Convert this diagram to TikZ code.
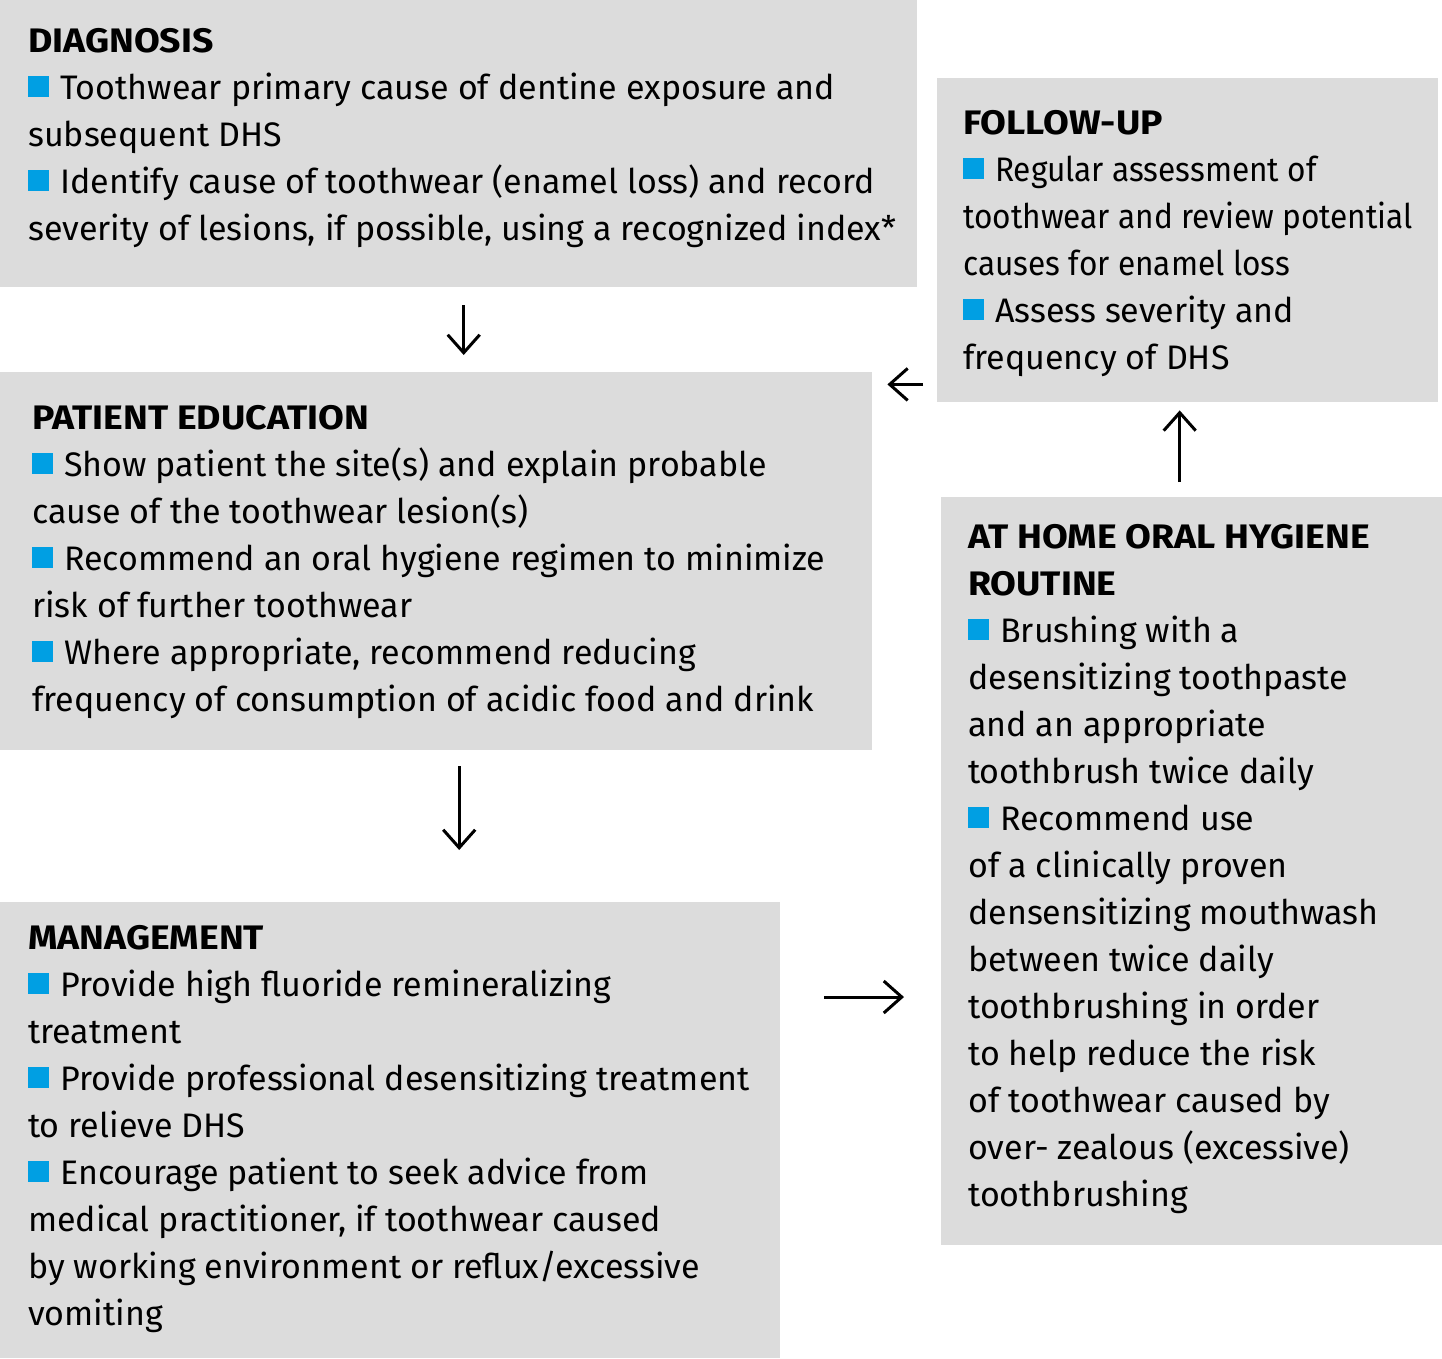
\documentclass[tikz,border=0pt]{standalone}
\usepackage{fontspec}
\setmainfont{Fira Sans}
\newfontfamily\condfont[FakeStretch=0.93]{Fira Sans}
\newfontfamily\headfont[FakeStretch=1.1]{Fira Sans}
\usetikzlibrary{arrows.meta}
\definecolor{boxgray}{RGB}{220,220,220}
\definecolor{bulletblue}{RGB}{0,159,227}
\newcommand{\bul}{\textcolor{bulletblue}{\rule[2pt]{21pt}{21pt}}\hspace{11pt}}
\newcommand{\hd}[1]{{\headfont\bfseries #1}}

\begin{document}
\begin{tikzpicture}[x=1pt,y=1pt,
 every node/.style={inner sep=0pt},
 panel/.style={fill=boxgray,anchor=north west},
 body/.style={anchor=north west,align=left,font=\fontsize{34}{47}\selectfont},
 flow/.style={-{Straight Barb[length=18pt,width=32pt]},line width=3pt}]
 \path[use as bounding box] (0,0) rectangle (1442,-1358);
 % Panels
 \node[panel,minimum width=917pt,minimum height=287pt] (diag) at (0,0) {};
 \node[panel,minimum width=872pt,minimum height=378pt] (edu) at (0,-372) {};
 \node[panel,minimum width=780pt,minimum height=456pt] (mgmt) at (0,-902) {};
 \node[panel,minimum width=501pt,minimum height=324pt] (follow) at (937,-78) {};
 \node[panel,minimum width=501pt,minimum height=748pt] (home) at (941,-497) {};
 % Texts
 \node[body] (diagtxt) at (28,-28) {\hd{DIAGNOSIS}\\
  \bul Toothwear primary cause of dentine exposure and\\
  subsequent DHS\\
  \bul Identify cause of toothwear (enamel loss) and record\\
  severity of lesions, if possible, using a recognized index*};
 \node[body] (edutxt) at (32,-405) {\hd{PATIENT EDUCATION}\\
  \bul Show patient the site(s) and explain probable\\
  cause of the toothwear lesion(s)\\
  \bul Recommend an oral hygiene regimen to minimize\\
  risk of further toothwear\\
  \bul Where appropriate, recommend reducing\\
  frequency of consumption of acidic food and drink};
 \node[body] (mgmttxt) at (28,-925) {\hd{MANAGEMENT}\\
  \bul Provide high fluoride remineralizing\\
  treatment\\
  \bul Provide professional desensitizing treatment\\
  to relieve DHS\\
  \bul Encourage patient to seek advice from\\
  medical practitioner, if toothwear caused\\
  by working environment or reflux/excessive\\
  vomiting};
 \node[body] (followtxt) at (963,-110) {\hd{FOLLOW-UP}\\
  \bul{\condfont Regular assessment of}\\
  {\condfont toothwear and review potential}\\
  {\condfont causes for enamel loss}\\
  \bul Assess severity and\\
  frequency of DHS};
 \node[body] (hometxt) at (968,-524) {\hd{AT HOME ORAL HYGIENE}\\
  \hd{ROUTINE}\\
  \bul Brushing with a\\
  desensitizing toothpaste\\
  and an appropriate\\
  toothbrush twice daily\\
  \bul Recommend use\\
  of a clinically proven\\
  densensitizing mouthwash\\
  between twice daily\\
  toothbrushing in order\\
  to help reduce the risk\\
  of toothwear caused by\\
  over- zealous (excessive)\\
  toothbrushing};
 % Flow arrows
 \draw[flow] ([xshift=5pt,yshift=-18pt]diag.south) -- ([xshift=5pt,yshift=17pt]diag.south |- edu.north);
 \draw[flow] ([xshift=23pt,yshift=-16pt]edu.south) -- ([xshift=23pt,yshift=52pt]edu.south |- mgmt.north);
 \draw[flow] ([xshift=44pt,yshift=-95pt]mgmt.north east) -- ([xshift=-37pt,yshift=-95pt]mgmt.north east -| home.west);
 \draw[flow] ([xshift=-12pt,yshift=15pt]home.north) -- ([xshift=-12pt,yshift=-8pt]home.north |- follow.south);
 \draw[flow] ([xshift=-14pt,yshift=18pt]follow.south west) -- ([xshift=15pt,yshift=18pt]follow.south west -| edu.east);
\end{tikzpicture}
\end{document}
